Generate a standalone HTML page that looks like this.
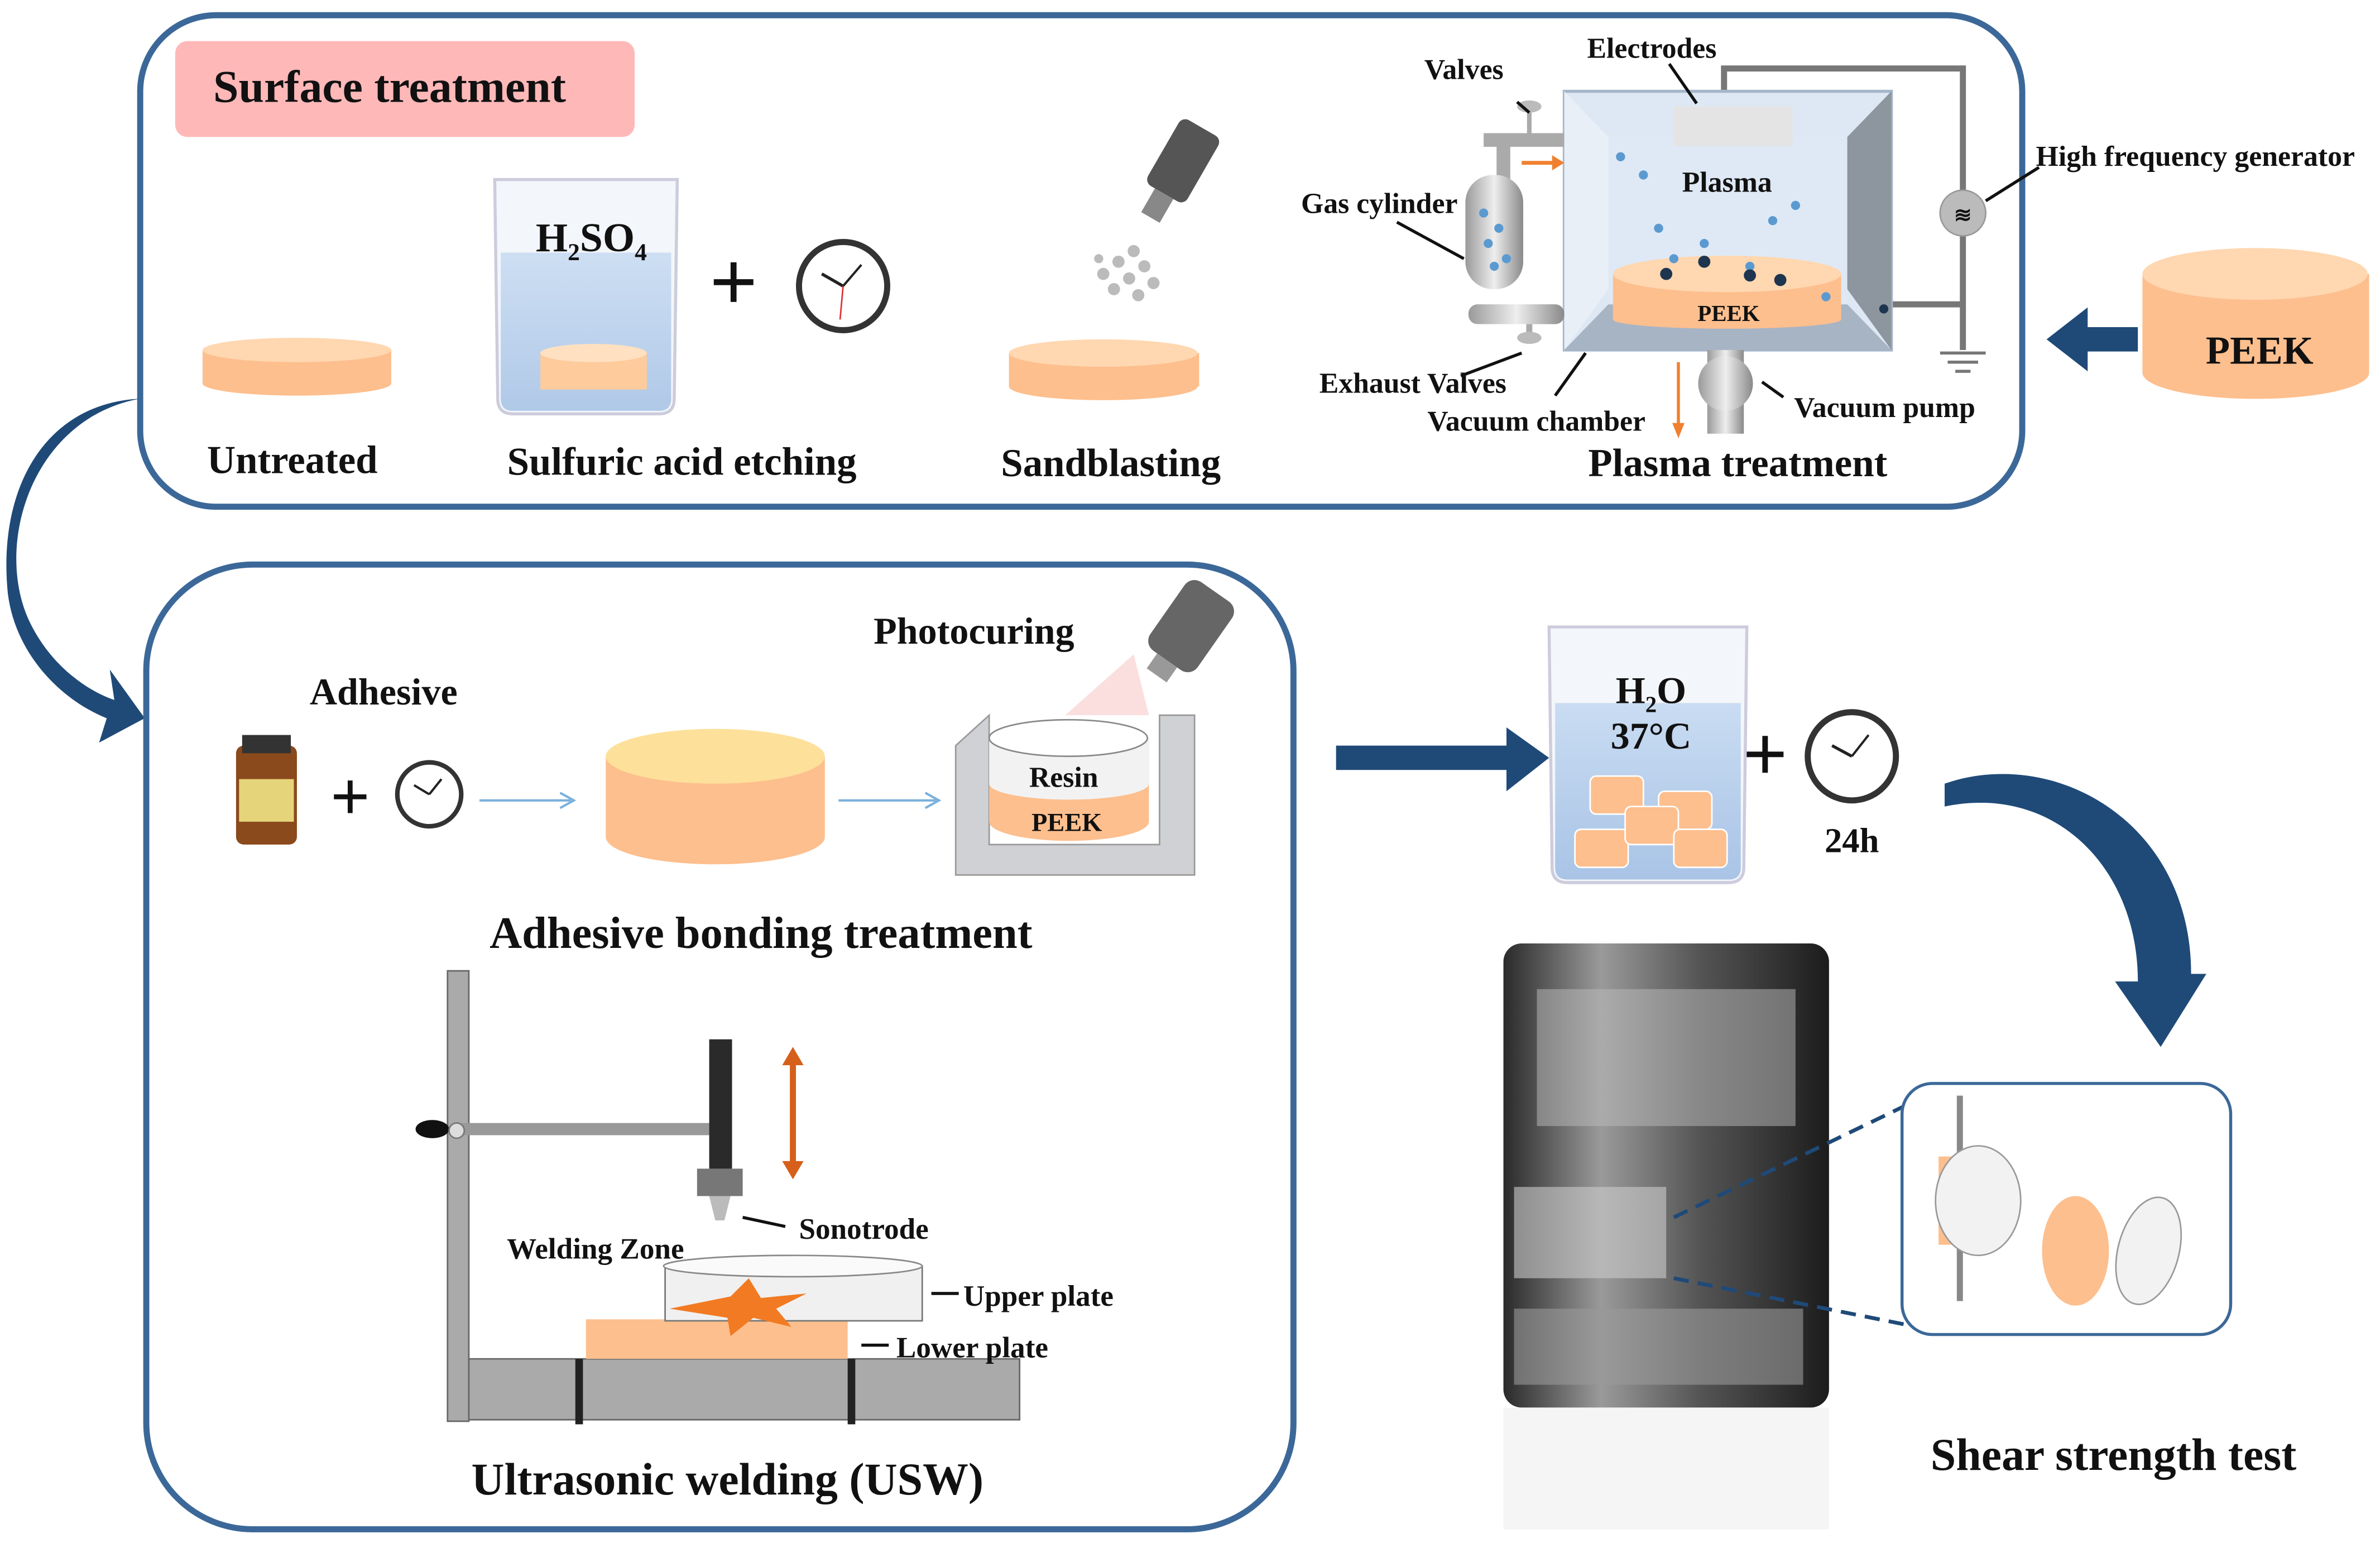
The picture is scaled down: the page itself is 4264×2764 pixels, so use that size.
<!DOCTYPE html>
<html><head><meta charset="utf-8"><style>
html,body{margin:0;padding:0;background:#fff}
svg{display:block}
text{font-family:"Liberation Serif",serif;font-weight:bold;fill:#111}
</style></head><body>
<svg width="4264" height="2764" viewBox="0 0 1564 1014" xmlns="http://www.w3.org/2000/svg">
<defs>
<linearGradient id="metal" x1="0" x2="1"><stop offset="0" stop-color="#9a9a9a"/><stop offset=".5" stop-color="#eee"/><stop offset="1" stop-color="#8a8a8a"/></linearGradient>
<linearGradient id="water" x1="0" y1="0" x2="0" y2="1"><stop offset="0" stop-color="#c9dcf2"/><stop offset="1" stop-color="#a9c4e6"/></linearGradient>
<linearGradient id="photo" x1="0" y1="0" x2="1" y2="0"><stop offset="0" stop-color="#2a2a2a"/><stop offset=".3" stop-color="#9a9a9a"/><stop offset=".6" stop-color="#555"/><stop offset="1" stop-color="#1c1c1c"/></linearGradient>
</defs>

<rect x="92" y="10" width="1237" height="323" rx="50" fill="none" stroke="#3b6898" stroke-width="4"/>
<rect x="115" y="27" width="302" height="63" rx="8" fill="#ffb8b8"/>
<text x="140" y="67" font-size="30">Surface treatment</text>

<rect x="133" y="230" width="124" height="22" fill="#fdbf8e"/>
<ellipse cx="195" cy="252" rx="62" ry="8" fill="#fdbf8e"/>
<ellipse cx="195" cy="230" rx="62" ry="8" fill="#ffd7b0"/>
<text x="192" y="311" font-size="26" text-anchor="middle">Untreated</text>

<path d="M325 118 L445 118 L443 262 Q443 272 433 272 L337 272 Q327 272 327 262 Z" fill="#f3f6fa" stroke="#ccd" stroke-width="2"/>
<path d="M329 166 L441 166 L441 262 Q441 270 433 270 L337 270 Q329 270 329 262 Z" fill="url(#water)" opacity=".9"/>
<rect x="355" y="232" width="70" height="24" fill="#fdcb9c"/>
<ellipse cx="390" cy="232" rx="35" ry="6" fill="#ffe0c0"/>
<text x="352" y="165" font-size="27" fill="#666">H<tspan font-size="16" dy="6">2</tspan><tspan dy="-6">SO</tspan><tspan font-size="16" dy="6">4</tspan></text>
<text x="482" y="204" font-size="56" text-anchor="middle" fill="#2a5585" font-family="Liberation Sans,sans-serif">+</text>
<circle cx="554" cy="188" r="29" fill="#fff" stroke="#333" stroke-width="4"/>
<line x1="554" y1="188" x2="540" y2="180" stroke="#222" stroke-width="2"/><line x1="554" y1="188" x2="566" y2="174" stroke="#222" stroke-width="1.5"/><line x1="554" y1="188" x2="552" y2="210" stroke="#d33" stroke-width="1"/>
<text x="448" y="312" font-size="26" text-anchor="middle">Sulfuric acid etching</text>

<g transform="rotate(30 775 110)"><rect x="760" y="80" width="30" height="50" rx="5" fill="#555"/><rect x="768" y="130" width="14" height="18" fill="#888"/></g>
<g fill="#bbb"><circle cx="745" cy="165" r="4"/><circle cx="735" cy="172" r="4"/><circle cx="752" cy="175" r="4"/><circle cx="725" cy="180" r="4"/><circle cx="742" cy="183" r="4"/><circle cx="758" cy="186" r="4"/><circle cx="732" cy="190" r="4"/><circle cx="748" cy="194" r="4"/><circle cx="722" cy="170" r="3"/></g>
<rect x="663" y="232" width="125" height="22" fill="#fdbf8e"/>
<ellipse cx="725" cy="254" rx="62" ry="9" fill="#fdbf8e"/>
<ellipse cx="725" cy="232" rx="62" ry="9" fill="#ffd7b0"/>
<text x="730" y="313" font-size="26" text-anchor="middle">Sandblasting</text>

<path d="M1133 70 L1133 45 L1290 45 L1290 125 M1290 155 L1290 230 M1243 200 L1290 200" fill="none" stroke="#777" stroke-width="4"/>
<circle cx="1290" cy="140" r="15" fill="#bbb" stroke="#999"/>
<text x="1290" y="146" font-size="14" text-anchor="middle" fill="#555">≋</text>
<path d="M1275 232 L1305 232 M1280 238 L1300 238 M1285 244 L1295 244" stroke="#777" stroke-width="2"/>
<rect x="1028" y="60" width="215" height="170" fill="#dde8f4" stroke="#a6b6ca" stroke-width="2"/>
<path d="M1028 60 L1057 90 L1057 190 L1028 230 Z" fill="#e8eff7"/>
<path d="M1243 60 L1214 90 L1214 190 L1243 230 Z" fill="#8d959e"/>
<path d="M1028 230 L1057 200 L1214 200 L1243 230 Z" fill="#a7b4c4"/>
<rect x="1057" y="90" width="157" height="110" fill="#dfe9f5"/>
<rect x="1100" y="70" width="78" height="26" fill="#e4e4e4"/>
<text x="1135" y="126" font-size="19" text-anchor="middle">Plasma</text>
<rect x="1060" y="180" width="150" height="30" fill="#fdbf8e"/>
<ellipse cx="1135" cy="210" rx="75" ry="6" fill="#fdbf8e"/>
<ellipse cx="1135" cy="180" rx="75" ry="12" fill="#ffd7b0"/>
<text x="1136" y="211" font-size="15" text-anchor="middle">PEEK</text>
<g fill="#5b9ad0"><circle cx="1065" cy="103" r="3"/><circle cx="1080" cy="115" r="3"/><circle cx="1090" cy="150" r="3"/><circle cx="1120" cy="160" r="3"/><circle cx="1165" cy="145" r="3"/><circle cx="1180" cy="135" r="3"/><circle cx="1150" cy="175" r="3"/><circle cx="1100" cy="170" r="3"/><circle cx="1200" cy="195" r="3"/></g>
<g fill="#1e3550"><circle cx="1095" cy="180" r="4"/><circle cx="1120" cy="172" r="4"/><circle cx="1150" cy="181" r="4"/><circle cx="1170" cy="184" r="4"/><circle cx="1238" cy="203" r="3"/></g>
<path d="M975 92 L1028 92 M988 92 L988 120" stroke="#aaa" stroke-width="9"/>
<line x1="1005" y1="70" x2="1005" y2="92" stroke="#aaa" stroke-width="3"/><ellipse cx="1005" cy="70" rx="8" ry="4" fill="#bbb"/>
<path d="M1000 107 L1022 107" stroke="#f08030" stroke-width="2.5"/><path d="M1020 102 L1028 107 L1020 112 Z" fill="#f08030"/>
<rect x="963" y="115" width="38" height="75" rx="18" fill="url(#metal)"/>
<g fill="#5b9ad0"><circle cx="975" cy="140" r="3"/><circle cx="985" cy="150" r="3"/><circle cx="978" cy="160" r="3"/><circle cx="990" cy="170" r="3"/><circle cx="982" cy="175" r="3"/></g>
<rect x="965" y="200" width="63" height="13" rx="6" fill="url(#metal)"/>
<line x1="1005" y1="213" x2="1005" y2="222" stroke="#aaa" stroke-width="4"/><ellipse cx="1005" cy="222" rx="8" ry="4" fill="#bbb"/>
<rect x="1122" y="230" width="24" height="55" fill="url(#metal)"/><circle cx="1134" cy="252" r="18" fill="url(#metal)"/>
<line x1="1103" y1="238" x2="1103" y2="280" stroke="#f08030" stroke-width="2"/><path d="M1099 278 L1103 288 L1107 278 Z" fill="#f08030"/>
<g stroke="#111" stroke-width="2"><line x1="997" y1="67" x2="1005" y2="74"/><line x1="1097" y1="42" x2="1115" y2="68"/><line x1="918" y1="146" x2="962" y2="170"/><line x1="960" y1="247" x2="1000" y2="232"/><line x1="1022" y1="260" x2="1042" y2="232"/><line x1="1158" y1="251" x2="1172" y2="261"/><line x1="1305" y1="132" x2="1340" y2="110"/></g>
<g font-size="19"><text x="936" y="52">Valves</text><text x="1043" y="38">Electrodes</text><text x="855" y="140">Gas cylinder</text><text x="1338" y="109">High frequency generator</text><text x="867" y="258">Exhaust Valves</text><text x="938" y="283">Vacuum chamber</text><text x="1179" y="274">Vacuum pump</text></g>
<text x="1142" y="313" font-size="26" text-anchor="middle">Plasma treatment</text>

<path d="M1408 180 L1408 245 A74 17 0 0 0 1557 245 L1557 180 Z" fill="#fdbf8e"/>
<ellipse cx="1482" cy="180" rx="74" ry="17" fill="#ffd7b0"/>
<text x="1485" y="239" font-size="26" text-anchor="middle">PEEK</text>
<path d="M1405 215 L1372 215 L1372 202 L1345 223 L1372 244 L1372 231 L1405 231 Z" fill="#1f4a78"/>

<path d="M92 262 C20 275 -5 360 20 410 C35 440 60 455 75 460 L72 440 L95 472 L65 488 L70 472 C40 460 10 430 5 390 C-2 320 30 265 92 262 Z" fill="#1f4a78"/>

<rect x="96" y="371" width="754" height="634" rx="70" fill="none" stroke="#3b6898" stroke-width="4"/>
<text x="252" y="463" font-size="25" text-anchor="middle">Adhesive</text>
<text x="640" y="423" font-size="25" text-anchor="middle">Photocuring</text>
<rect x="155" y="490" width="40" height="65" rx="5" fill="#8a4a1c"/><rect x="159" y="483" width="32" height="12" fill="#333"/><rect x="157" y="512" width="36" height="28" fill="#e6d47a"/>
<text x="230" y="539" font-size="46" text-anchor="middle" fill="#2a5585" font-family="Liberation Sans,sans-serif">+</text>
<circle cx="282" cy="522" r="21" fill="#fff" stroke="#333" stroke-width="3"/><line x1="282" y1="522" x2="272" y2="516" stroke="#222" stroke-width="1.5"/><line x1="282" y1="522" x2="290" y2="512" stroke="#222" stroke-width="1.5"/>
<path d="M315 526 L375 526 M368 521 L377 526 L368 531" stroke="#7ab0dc" fill="none" stroke-width="1.5"/>
<path d="M398 497 L398 550 A72 18 0 0 0 542 550 L542 497 Z" fill="#fdbf8e"/>
<ellipse cx="470" cy="497" rx="72" ry="18" fill="#fde09a"/>
<path d="M551 526 L615 526 M608 521 L617 526 L608 531" stroke="#7ab0dc" fill="none" stroke-width="1.5"/>
<path d="M628 490 L650 470 L650 555 L762 555 L762 470 L785 470 L785 575 L628 575 Z" fill="#cfd1d4" stroke="#999"/>
<path d="M650 485 L650 540 A50 12 0 0 0 755 540 L755 485 Z" fill="#fdbf8e"/>
<path d="M650 485 L650 515 A50 10 0 0 0 755 515 L755 485 Z" fill="#f2f2f2"/>
<ellipse cx="702" cy="485" rx="52" ry="12" fill="#fff" stroke="#888"/>
<text x="699" y="517" font-size="19" text-anchor="middle">Resin</text>
<text x="701" y="546" font-size="17" text-anchor="middle">PEEK</text>
<path d="M745 430 L700 470 L755 470 Z" fill="#f8c8c8" opacity=".6"/>
<g transform="rotate(35 785 410)"><rect x="765" y="385" width="38" height="55" rx="8" fill="#666"/><rect x="776" y="440" width="16" height="12" fill="#999"/></g>
<text x="500" y="623" font-size="29.5" text-anchor="middle">Adhesive bonding treatment</text>

<rect x="294" y="638" width="14" height="296" fill="#aaa" stroke="#666"/>
<rect x="308" y="893" width="362" height="40" fill="#aaa" stroke="#666"/>
<rect x="378" y="893" width="5" height="43" fill="#222"/><rect x="557" y="893" width="5" height="43" fill="#222"/>
<rect x="300" y="738" width="168" height="8" fill="#999"/>
<ellipse cx="284" cy="742" rx="11" ry="6" fill="#111"/><circle cx="300" cy="743" r="5" fill="#ddd" stroke="#777"/>
<rect x="466" y="683" width="15" height="85" fill="#2a2a2a"/><rect x="458" y="768" width="30" height="18" fill="#777"/><path d="M466 786 L480 786 L476 802 L470 802 Z" fill="#bbb"/>
<line x1="521" y1="698" x2="521" y2="765" stroke="#d65f1a" stroke-width="4"/><path d="M514 700 L521 688 L528 700 Z M514 763 L521 775 L528 763 Z" fill="#d65f1a"/>
<rect x="385" y="867" width="172" height="26" fill="#fdbf8e"/>
<path d="M437 832 L606 832 L606 868 L437 868 Z" fill="#f0f0f0" stroke="#777"/><ellipse cx="521" cy="832" rx="85" ry="7" fill="#fafafa" stroke="#888"/>
<path d="M440 860 L480 852 L492 840 L500 853 L530 850 L510 860 L520 872 L495 866 L480 878 L478 866 Z" fill="#f27a22"/>
<g stroke="#111" stroke-width="2"><line x1="488" y1="800" x2="516" y2="806"/><line x1="612" y1="850" x2="630" y2="850"/><line x1="566" y1="884" x2="584" y2="884"/></g>
<g font-size="19.5"><text x="525" y="814">Sonotrode</text><text x="333" y="827">Welding Zone</text><text x="633" y="858">Upper plate</text><text x="589" y="892">Lower plate</text></g>
<text x="478" y="982" font-size="30" text-anchor="middle">Ultrasonic welding (USW)</text>

<path d="M878 490 L990 490 L990 478 L1018 498 L990 520 L990 506 L878 506 Z" fill="#1f4a78"/>
<path d="M1018 412 L1148 412 L1146 570 Q1146 580 1136 580 L1030 580 Q1020 580 1020 570 Z" fill="#f3f6fa" stroke="#ccd" stroke-width="2"/>
<path d="M1022 462 L1144 462 L1144 570 Q1144 578 1136 578 L1030 578 Q1022 578 1022 570 Z" fill="url(#water)"/>
<g fill="#fdbf8e" stroke="#fff"><rect x="1045" y="510" width="35" height="25" rx="4"/><rect x="1090" y="520" width="35" height="25" rx="4"/><rect x="1035" y="545" width="35" height="25" rx="4"/><rect x="1068" y="530" width="35" height="25" rx="4"/><rect x="1100" y="545" width="35" height="25" rx="4"/></g>
<text x="1085" y="462" font-size="25" text-anchor="middle" fill="#666">H<tspan font-size="15" dy="6">2</tspan><tspan dy="-6">O</tspan></text>
<text x="1085" y="492" font-size="25" text-anchor="middle" fill="#666">37°C</text>
<text x="1160" y="513" font-size="52" text-anchor="middle" fill="#2a5585" font-family="Liberation Sans,sans-serif">+</text>
<circle cx="1217" cy="497" r="29" fill="#fff" stroke="#333" stroke-width="4"/><line x1="1217" y1="497" x2="1204" y2="490" stroke="#222" stroke-width="2"/><line x1="1217" y1="497" x2="1228" y2="483" stroke="#222" stroke-width="1.5"/>
<text x="1217" y="560" font-size="23" text-anchor="middle">24h</text>
<path d="M1278 515 C1350 490 1440 540 1440 640 L1450 640 L1420 688 L1390 645 L1405 645 C1405 570 1350 515 1278 530 Z" fill="#1f4a78"/>

<rect x="988" y="620" width="214" height="305" rx="12" fill="url(#photo)"/>
<rect x="1010" y="650" width="170" height="90" fill="#bbb" opacity=".5"/>
<rect x="995" y="780" width="100" height="60" fill="#ccc" opacity=".6"/>
<rect x="995" y="860" width="190" height="50" fill="#999" opacity=".6"/>
<rect x="988" y="925" width="214" height="80" fill="#eee" opacity=".6"/>
<path d="M1100 840 L1275 875 M1100 800 L1270 718" stroke="#1f4a78" stroke-width="2.5" stroke-dasharray="10 6"/>
<rect x="1250" y="712" width="216" height="165" rx="20" fill="#fff" stroke="#3b6898" stroke-width="2"/>
<line x1="1288" y1="720" x2="1288" y2="855" stroke="#888" stroke-width="4"/>
<path d="M1274 760 L1300 760 L1300 818 L1274 818 Z" fill="#fdbf8e"/><ellipse cx="1300" cy="789" rx="28" ry="36" fill="#f2f2f2" stroke="#999"/>
<ellipse cx="1364" cy="822" rx="22" ry="36" fill="#fdbf8e"/><ellipse cx="1412" cy="822" rx="20" ry="36" fill="#f2f2f2" stroke="#999" transform="rotate(15 1412 822)"/>
<text x="1389" y="966" font-size="30" text-anchor="middle">Shear strength test</text>
</svg>
</body></html>
